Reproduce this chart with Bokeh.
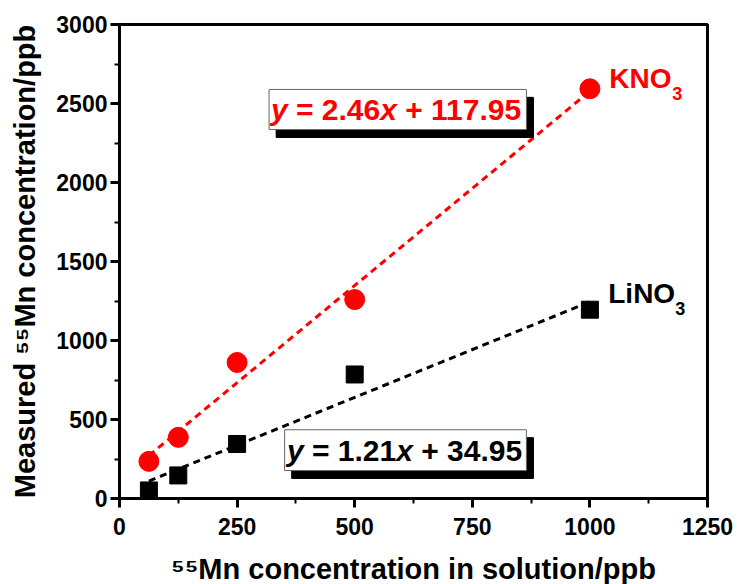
from bokeh.plotting import figure
from bokeh.models import Range1d, SingleIntervalTicker, ColumnDataSource
from bokeh.core.properties import value
from bokeh.embed import file_html
from bokeh.resources import INLINE

# ---- data ----
conc = [62.5, 125, 250, 500, 1000]            # 55Mn in solution / ppb
kno3 = [235, 387, 861, 1259, 2593]            # measured, KNO3 matrix
lino3 = [51, 146, 345, 785, 1195]             # measured, LiNO3 matrix

fit_x = [62.5, 1000]
kno3_slope, kno3_icpt = 2.46, 117.95
lino3_slope, lino3_icpt = 1.21, 34.95
kno3_fit = [kno3_slope * x + kno3_icpt for x in fit_x]
lino3_fit = [lino3_slope * x + lino3_icpt for x in fit_x]

kno3_eq = ["y", "= 2.46", "x", "+ 117.95"]
lino3_eq = ["y", "= 1.21", "x", "+ 34.95"]
series_names = [("KNO", "3"), ("LiNO", "3")]

x_ticks_interval = 250
y_ticks_interval = 500

FONT = "Liberation Sans"
RED = "#ff0000"

p = figure(frame_width=588, frame_height=474,
           x_range=Range1d(0, 1250), y_range=Range1d(0, 3000),
           output_backend="svg", toolbar_location=None,
           min_border_left=119, min_border_top=24,
           min_border_right=26, min_border_bottom=86)
p.xgrid.visible = False
p.ygrid.visible = False
p.outline_line_color = "black"
p.outline_line_width = 3
p.outline_line_alpha = 1.0
p.background_fill_color = "white"
p.border_fill_color = "white"

p.xaxis.ticker = SingleIntervalTicker(interval=x_ticks_interval, num_minor_ticks=2)
p.yaxis.ticker = SingleIntervalTicker(interval=y_ticks_interval, num_minor_ticks=2)
p.xaxis.axis_label = "\u2075\u2075Mn concentration in solution/ppb"
p.yaxis.axis_label = "Measured \u2075\u2075Mn concentration/ppb"

for ax in (p.xaxis[0], p.yaxis[0]):
    ax.axis_line_width = 3
    ax.axis_line_color = "black"
    ax.major_tick_line_width = 3
    ax.minor_tick_line_width = 2
    ax.major_tick_out = 9
    ax.major_tick_in = 0
    ax.minor_tick_out = 5
    ax.minor_tick_in = 0
    ax.major_label_text_font = FONT
    ax.major_label_text_font_size = "23px"
    ax.major_label_text_font_style = "bold"
    ax.major_label_text_color = "black"
    ax.axis_label_text_font = FONT
    ax.axis_label_text_font_size = "29px"
    ax.axis_label_text_font_style = "bold"
    ax.axis_label_text_color = "black"
p.xaxis.major_label_standoff = 10
p.yaxis.major_label_standoff = 3
p.xaxis.axis_label_standoff = 15
p.yaxis.axis_label_standoff = 12

# ---- fit lines ----
p.line(fit_x, kno3_fit, line_color=RED, line_width=3, line_dash="7 5")
p.line(fit_x, lino3_fit, line_color="black", line_width=3, line_dash="7 5")

# ---- data points ----
p.scatter(conc, kno3, marker="circle", size=20, fill_color=RED, line_color=RED)
p.scatter(conc, lino3, marker="square", size=17, fill_color="black", line_color="black")

# ---- equation boxes (shadow + white box) ----
box_left = [318, 351]
box_right = [865, 865]
box_top = [2589, 435]
box_bottom = [2335, 177]
sdx, sdy = 15, 50
p.quad(left=[v + sdx for v in box_left], right=[v + sdx for v in box_right],
       top=[v - sdy for v in box_top], bottom=[v - sdy for v in box_bottom],
       fill_color="black", line_color="black")
p.quad(left=box_left, right=box_right, top=box_top, bottom=box_bottom,
       fill_color="white", line_color="#666666", line_width=1)

offsets = [0, 25.0, 109.2, 134.2]
styles = ["bold italic", "bold", "bold italic", "bold"]
eq_src = ColumnDataSource(dict(
    x=[322] * 4 + [356] * 4,
    y=[2462] * 4 + [306] * 4,
    text=kno3_eq + lino3_eq,
    xo=offsets + offsets,
    st=styles + styles,
    col=[RED] * 4 + ["black"] * 4,
))
p.text(x="x", y="y", text="text", x_offset="xo", source=eq_src,
       text_font=value(FONT), text_font_size="30px", text_font_style="st",
       text_color="col", text_baseline="middle", text_align="left")

# ---- series labels ----
lab_src = ColumnDataSource(dict(
    x=[1041, 1039], y=[2660, 1300],
    text=[s[0] for s in series_names], col=[RED, "black"],
))
p.text(x="x", y="y", text="text", source=lab_src, text_font=value(FONT),
       text_font_size="28px", text_font_style="bold", text_color="col",
       text_baseline="middle")
sub_src = ColumnDataSource(dict(
    x=[1041, 1039], y=[2660, 1300],
    text=[s[1] for s in series_names], col=[RED, "black"],
    xo=[63, 67],
))
p.text(x="x", y="y", text="text", source=sub_src, x_offset="xo", y_offset=15,
       text_font=value(FONT), text_font_size="18px", text_font_style="bold",
       text_color="col", text_baseline="middle")

open("out.html", "w").write(file_html(p, INLINE))
